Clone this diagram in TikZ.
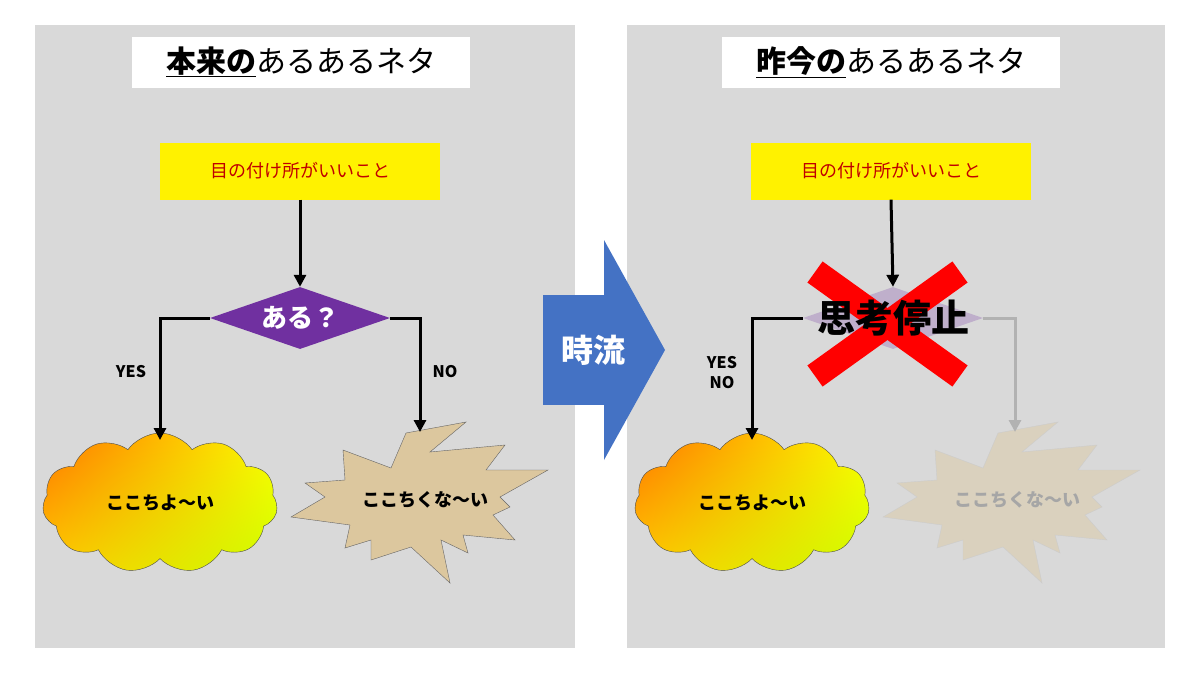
\documentclass[tikz,border=0pt]{standalone}
\usepackage{fontspec}
\setmainfont{Noto Sans CJK JP}
\usetikzlibrary{shapes.geometric,shapes.symbols,arrows.meta,shadings}
\definecolor{panel}{HTML}{D9D9D9}
\definecolor{ttl}{HTML}{C00000}
\definecolor{purp}{HTML}{7030A0}
\definecolor{blu}{HTML}{4472C4}
\definecolor{tan}{HTML}{DCC79E}
\begin{document}
\begin{tikzpicture}[x=1pt,y=-1pt,
  panelbox/.style={fill=panel,draw=none},
  titlebox/.style={fill=white,minimum width=338pt,minimum height=51pt,font=\fontsize{30}{34}\selectfont},
  ybox/.style={fill=yellow,minimum width=280pt,minimum height=57pt,text=ttl,font=\fontsize{18}{20}\selectfont},
  dia/.style={diamond,aspect=2.9,fill=purp,minimum width=180pt,minimum height=62pt,inner sep=0pt,text=white,font=\bfseries\fontsize{26}{28}\selectfont},
  flow/.style={line width=3pt,-{Triangle[length=12pt,width=12pt]}},
  lbl/.style={font=\bfseries\fontsize{16}{20}\selectfont},
  cld/.style={cloud,cloud puffs=11,cloud puff arc=110,aspect=1.7,minimum width=235pt,minimum height=140pt,draw=black!70,thin,
    upper left=orange!90!red,upper right=yellow,lower left=yellow!60!orange,lower right=yellow!80!green,font=\bfseries\fontsize{18}{20}\selectfont},
  bang/.style={draw=black!60,fill=tan,thin}]
\useasboundingbox (0,0) rectangle (1200,675);
\fill[white] (0,0) rectangle (1200,675);
% panels
\path[panelbox] (35,25) rectangle (575,648);
\path[panelbox] (627,25) rectangle (1165,648);
% ---- left ----
\node[titlebox] (t1) at (301,62) {\textbf{\underline{本来の}}あるあるネタ};
\node[ybox] (y1) at (300,171) {目の付け所がいいこと};
\node[dia] (d1) at (300,318) {ある？};
\node[cld] (c1) at (160,503) {ここちよ〜い};
\coordinate (c1t) at (160,440);
\coordinate (x1) at (420,432);
\draw[bang] (406,433)--(466,422)--(430,452)--(505,445)--(486,470)--(548,470)--(500,497)--(510,507)--(493,515)--(515,540)--(463,535)--(468,553)--(441,540)--(450,583)--(411,547)--(371,560)--(371,540)--(345,548)--(350,525)--(291,517)--(325,497)--(305,483)--(345,480)--(343,450)--(391,468)--cycle;
\node[font=\bfseries\fontsize{18}{20}\selectfont] (b1) at (425,500) {ここちくな〜い};
\draw[flow] (y1.south) -- (d1.north);
\draw[flow] (d1.west) -| (c1t);
\draw[flow] (d1.east) -| (x1);
\node[lbl] (yes1) at (131,372) {YES};
\node[lbl] (no1) at (445,372) {NO};
% ---- arrow ----
\fill[blu] (543,295) rectangle (606,405);
\fill[blu] (604,240) -- (665,350) -- (604,460) -- cycle;
\node[text=white,font=\bfseries\fontsize{32}{34}\selectfont] (ts) at (593,350) {時流};
% ---- right ----
\node[titlebox] (t2) at (891,62) {\textbf{\underline{昨今の}}あるあるネタ};
\node[ybox] (y2) at (891,171) {目の付け所がいいこと};
\node[dia,fill=purp!25!panel] (d2) at (893,318) {};
\node[cld] (c2) at (752,503) {ここちよ〜い};
\coordinate (c2t) at (752,440);
\coordinate (x2) at (1015,432);
\draw[bang,draw=black!20,fill=tan!45!panel] (998,433)--(1058,422)--(1022,452)--(1097,445)--(1078,470)--(1140,470)--(1092,497)--(1102,507)--(1085,515)--(1107,540)--(1055,535)--(1060,553)--(1033,540)--(1042,583)--(1003,547)--(963,560)--(963,540)--(937,548)--(942,525)--(883,517)--(917,497)--(897,483)--(937,480)--(935,450)--(983,468)--cycle;
\node[text=black!35,font=\bfseries\fontsize{18}{20}\selectfont] (b2) at (1017,500) {ここちくな〜い};
\draw[flow] (y2.south) -- (d2.north);
\draw[flow,draw=black!30] (d2.east) -| (x2);
\draw[flow] (d2.west) -| (c2t);
% red X
\draw[red,line width=26pt] (815,272) -- (960,376);
\draw[red,line width=26pt] (960,272) -- (815,376);
\node[font=\bfseries\fontsize{38}{40}\selectfont] (sk) at (893,318) {思考停止};
\node[lbl,align=center] (yn) at (722,373) {YES\\NO};
\end{tikzpicture}
\end{document}
